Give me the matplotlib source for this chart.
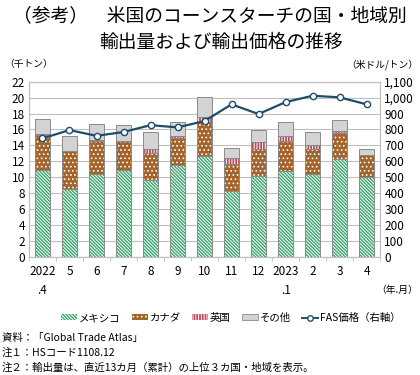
import matplotlib
matplotlib.use("Agg")
import matplotlib.pyplot as plt
import numpy as np
from matplotlib.patches import Patch
from matplotlib.lines import Line2D
from matplotlib.ticker import FuncFormatter

plt.rcParams['font.family'] = ['Noto Sans CJK JP', 'DejaVu Sans']
plt.rcParams['hatch.linewidth'] = 0.7

# data (thousand tonnes, USD/t)
months = ["2022\n.4", "5", "6", "7", "8", "9", "10", "11", "12", "2023\n.1", "2", "3", "4"]
mexico = [10.9, 8.5, 10.4, 10.9, 9.7, 11.5, 12.7, 8.2, 10.15, 10.8, 10.4, 12.25, 10.0]
canada = [4.4, 4.8, 4.2, 3.65, 3.3, 3.4, 4.2, 3.5, 3.35, 3.75, 3.15, 3.25, 2.8]
uk = [0.15, 0.05, 0.1, 0.05, 0.5, 0.3, 0.7, 0.7, 0.9, 0.65, 0.5, 0.3, 0.05]
other = [1.85, 1.85, 1.95, 1.9, 2.2, 1.7, 2.5, 1.3, 1.5, 1.8, 1.65, 1.4, 0.7]
fas = [744, 796, 760, 784, 827, 813, 853, 958, 897, 972, 1012, 1002, 958]

c_green = "#3aa66c"
c_brown = "#a3642c"
c_red = "#c8465c"
c_grey = "#d3d3d3"
c_line = "#1e4d6b"

h_green = "\\" * 10
h_brown = "...."
h_red = "|" * 6

fig = plt.figure(figsize=(4.2, 3.75), dpi=100)
ax = fig.add_axes([0.069, 0.3155, 0.836, 0.4665])
ax2 = ax.twinx()

x = np.arange(len(months))
w = 0.57
series = [(mexico, c_green, h_green, "white"),
          (canada, c_brown, h_brown, "white"),
          (uk, c_red, h_red, "white"),
          (other, c_grey, None, c_grey)]
bottom = np.zeros(len(months))
for vals, col, hatch, hc in series:
    vals = np.array(vals)
    ax.bar(x, vals, w, bottom=bottom, color=col, edgecolor=hc, hatch=hatch, linewidth=0, zorder=2)
    ax.bar(x, vals, w, bottom=bottom, fill=False, edgecolor="#8a8a8a", linewidth=0.7, zorder=3)
    bottom += vals

ax2.plot(x, fas, color=c_line, lw=1.6, marker="o", ms=4.5, mfc="white", mec=c_line, mew=1.0, zorder=5)

ax.set_xlim(-0.5, len(months) - 0.5)
ax.set_ylim(0, 22)
ax.set_yticks(range(0, 23, 2))
ax2.set_ylim(0, 1100)
ax2.set_yticks(range(0, 1101, 100))
ax2.yaxis.set_major_formatter(FuncFormatter(lambda v, p: f"{int(v):,}"))

ax.grid(axis="y", color="#bfbfbf", lw=0.8, zorder=0)
ax.set_axisbelow(True)
for a in (ax, ax2):
    for s in a.spines.values():
        s.set_color("#bfbfbf")
        s.set_linewidth(0.8)
    a.tick_params(axis="y", length=0, labelsize=8.5, pad=3)

ax.set_xticks(x)
ax.set_xticklabels(months, fontsize=8.5, linespacing=1.6, va="top")
ax.set_xticks(np.arange(-0.5, len(months)), minor=True)
ax.tick_params(axis="x", which="major", length=0, pad=6)
ax.tick_params(axis="x", which="minor", length=3, color="#bfbfbf")

fig.text(0.5, 0.955, "（参考）　米国のコーンスターチの国・地域別", ha="center", va="center", fontsize=13.5)
fig.text(0.527, 0.888, "輸出量および輸出価格の推移", ha="center", va="center", fontsize=13.5)
fig.text(0.01, 0.828, "（千トン）", fontsize=7, va="center")
fig.text(0.995, 0.828, "（米ドル/トン）", fontsize=7, va="center", ha="right")
fig.text(0.995, 0.228, "（年.月）", fontsize=7, va="center", ha="right")

handles = [Patch(facecolor=c_green, edgecolor="white", hatch=h_green, lw=0),
           Patch(facecolor=c_brown, edgecolor="white", hatch=h_brown, lw=0),
           Patch(facecolor=c_red, edgecolor="white", hatch=h_red, lw=0),
           Patch(facecolor=c_grey, edgecolor="#8a8a8a", lw=0.6),
           Line2D([], [], color=c_line, lw=1.4, marker="o", ms=4, mfc="white", mec=c_line)]
labels = ["メキシコ", "カナダ", "英国", "その他", "FAS価格（右軸）"]
fig.legend(handles, labels, loc="center", bbox_to_anchor=(0.55, 0.152), ncol=5, frameon=False,
           fontsize=7.5, handlelength=1.5, handleheight=0.5, handletextpad=0.2, columnspacing=1.1)

notes = ["資料：「Global Trade Atlas」",
         "注１：HSコード1108.12",
         "注２：輸出量は、直近13カ月（累計）の上位３カ国・地域を表示。"]
for i, t in enumerate(notes):
    fig.text(0.005, 0.098 - i * 0.039, t, fontsize=7.5, va="center")

fig.savefig("out.png", dpi=100)
